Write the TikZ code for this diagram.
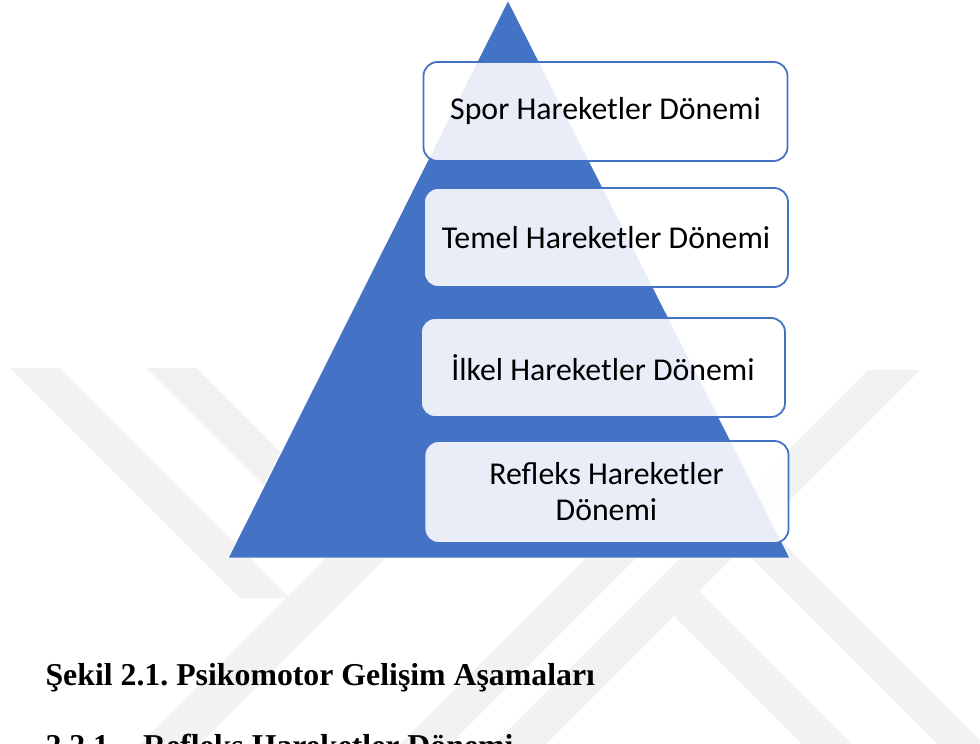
\documentclass[tikz,border=0pt]{standalone}
\usepackage{fontspec}
\setmainfont{Liberation Serif}
\newfontfamily\calibri{Carlito}
\usetikzlibrary{positioning}
\definecolor{pyrblue}{HTML}{4472C4}
\tikzset{
  stage/.style={draw=pyrblue, line width=1.8pt, rounded corners=14pt,
    fill=white, fill opacity=0.88, text opacity=1,
    minimum width=364pt, minimum height=99pt, inner sep=2pt, align=center,
    font=\calibri\fontsize{31.8}{36}\selectfont},
  wmark/.style={fill=black!5},
  caption/.style={anchor=base west, font=\bfseries\frenchspacing\fontsize{31.8}{38}\selectfont}
}

\begin{document}
\begin{tikzpicture}[x=1pt, y=-1pt]
	\useasboundingbox (0,0) rectangle (980,744);
	\clip (0,0) rectangle (980,744);
	% Watermark
	\fill[wmark] (10,368) -- (60,368) -- (290,598) -- (240,598) -- cycle;
	\fill[wmark] (147,368) -- (197,368) -- (349,520) -- (299,520) -- cycle;
	\fill[wmark] (140,744) -- (200,744) -- (404,540) -- (344,540) -- cycle;
	\fill[wmark] (400,744) -- (450,744) -- (654,540) -- (604,540) -- cycle;
	\fill[wmark] (494,744) -- (546,744) -- (920,370) -- (868,370) -- cycle;
	\fill[wmark] (648,590) -- (698,590) -- (852,744) -- (802,744) -- cycle;
	\fill[wmark] (673,480) -- (720,480) -- (984,744) -- (937,744) -- cycle;
	% Pyramid
	\filldraw[fill=pyrblue, draw=white, line width=1pt] (508,0) -- (790,558) -- (228,558) -- cycle;
	% Stages
	\node[stage] (spor) at (605.5,111.5) {Spor Hareketler Dönemi};
	\node[stage] (temel) at (606,237.5) {Temel Hareketler Dönemi};
	\node[stage] (ilkel) at (603,367.5) {İlkel Hareketler Dönemi};
	\node[stage, minimum height=102pt] (refleks) at (606.5,492) {Refleks Hareketler\\Dönemi};
	% Caption
	\node[caption] (sekil) at (42,685) {Şekil 2.1. Psikomotor Gelişim Aşamaları};
	\node[caption] (baslik) at (42,756) {2.2.1\hspace{34pt}Refleks Hareketler Dönemi};
\end{tikzpicture}
\end{document}
